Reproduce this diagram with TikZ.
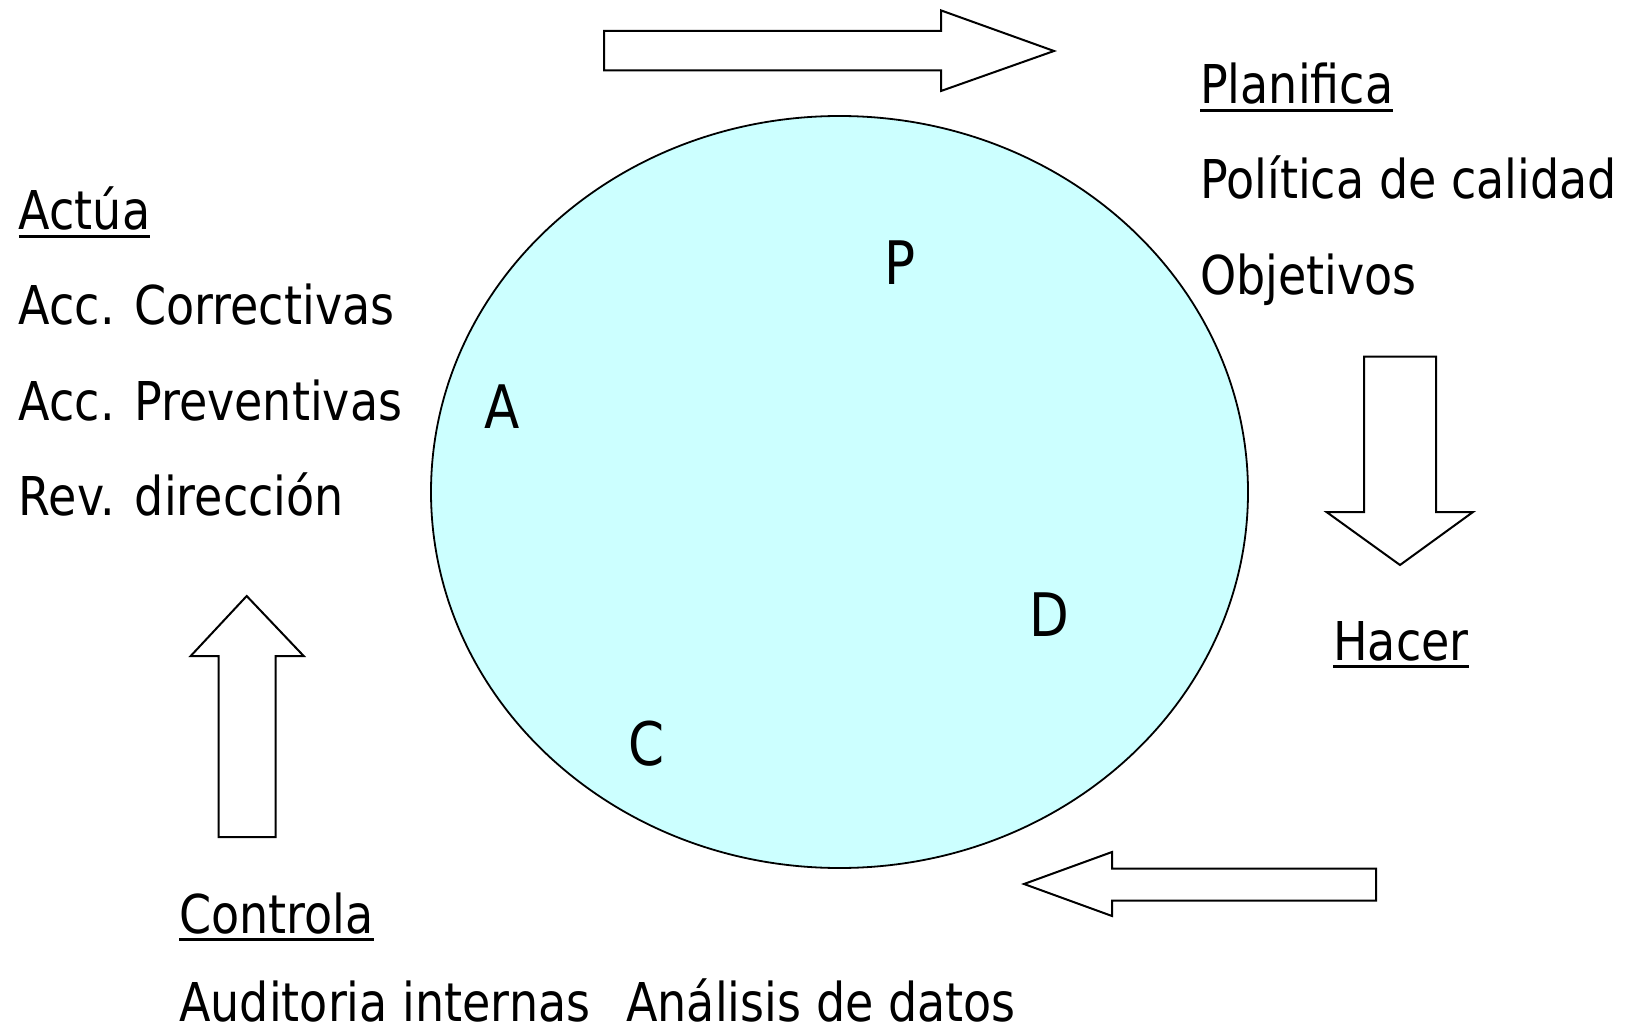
\documentclass[tikz,border=0pt]{standalone}
\usepackage{fontspec}
\setmainfont[FakeStretch=0.86]{DejaVu Sans}
\usetikzlibrary{shapes.geometric}
\definecolor{cyclefill}{HTML}{CCFFFF}
\newcommand\ulx[1]{\setbox0\hbox{#1}\rlap{\rule[-8pt]{\wd0}{3pt}}\box0}
\tikzset{
  txt/.style={anchor=base west, inner sep=0pt, font=\fontsize{53.5}{64}\selectfont},
  letter/.style={anchor=base west, inner sep=0pt, font=\fontsize{60}{72}\selectfont},
  blockarrow/.style={draw=black, fill=white, line width=2pt, line join=miter},
}
\begin{document}
\begin{tikzpicture}[x=1pt,y=-1pt]
\useasboundingbox[fill=white] (0,0) rectangle (1625,1032);
% cycle ellipse
\node[ellipse, draw=black, line width=1.8pt, fill=cyclefill, minimum width=817pt, minimum height=752pt, inner sep=0pt] (cycle) at (839.5,492) {};
% letters
\node[letter] (P) at (884,285) {P};
\node[letter] (A) at (484,428) {A};
\node[letter] (D) at (1029,636) {D};
\node[letter] (C) at (628,765) {C};
% block arrows
\draw[blockarrow] (604,31) -- (941,31) -- (941,10.4) -- (1054,51) -- (941,91) -- (941,70.5) -- (604,70.5) -- cycle;
\draw[blockarrow] (1364,356.5) -- (1436,356.5) -- (1436,512) -- (1473,512) -- (1400,565) -- (1326.5,512) -- (1364,512) -- cycle;
\draw[blockarrow] (1376,868.5) -- (1112,868.5) -- (1112,852) -- (1024,884) -- (1112,916) -- (1112,900.6) -- (1376,900.6) -- cycle;
\draw[blockarrow] (218.7,837) -- (218.7,656) -- (190.7,656) -- (246.7,596) -- (303.7,656) -- (275.7,656) -- (275.7,837) -- cycle;
% texts: Actua
\node[txt] (actua) at (18.7,230) {\ulx{Actúa}};
\node[txt] (acc1) at (18.7,324) {Acc. Correctivas};
\node[txt] (acc2) at (18.7,420) {Acc. Preventivas};
\node[txt] (rev) at (18.7,515) {Rev. dirección};
% Planifica
\node[txt] (plan) at (1200,103.6) {\ulx{Planifica}};
\node[txt] (pol) at (1200,199) {Política de calidad};
\node[txt] (obj) at (1200,295) {Objetivos};
% Hacer
\node[txt] (hacer) at (1333,660) {\ulx{Hacer}};
% Controla
\node[txt] (contr) at (179,933) {\ulx{Controla}};
\node[txt, text depth=0pt] (aud) at (179,1021) {Auditoria internas\hspace{0.4em} Análisis de datos};
\end{tikzpicture}
\end{document}
